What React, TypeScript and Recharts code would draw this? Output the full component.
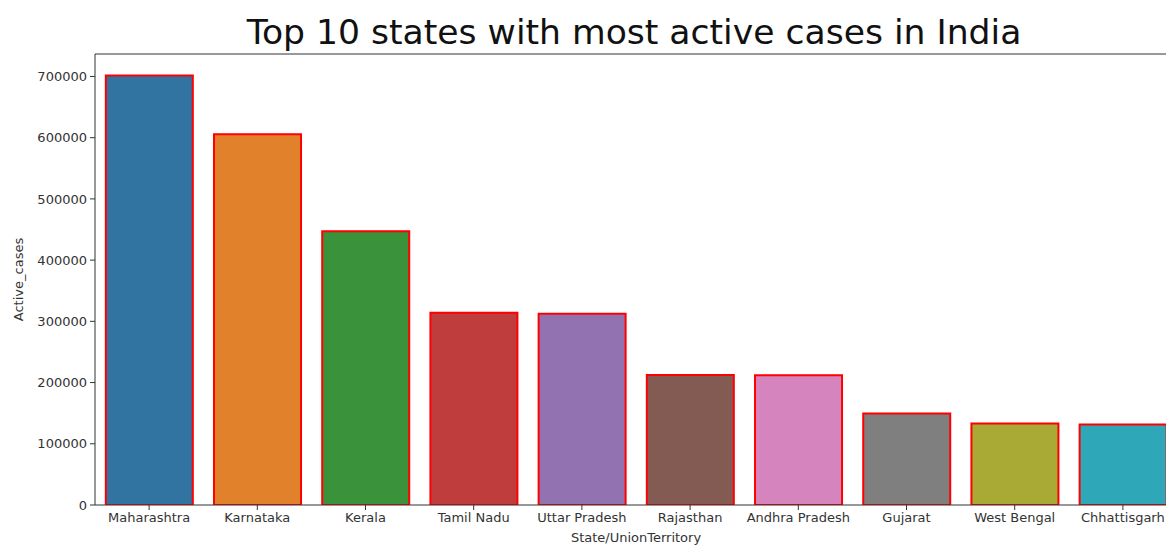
import React from 'react';
import { BarChart, Bar, XAxis, YAxis, Cell, ReferenceLine } from 'recharts';

const states = [
  'Maharashtra',
  'Karnataka',
  'Kerala',
  'Tamil Nadu',
  'Uttar Pradesh',
  'Rajasthan',
  'Andhra Pradesh',
  'Gujarat',
  'West Bengal',
  'Chhattisgarh',
];
const activeCases = [701600, 605500, 447000, 314000, 312500, 212500, 211800, 149600, 133200, 131600];
const barColors = [
  '#3274a1',
  '#e1812c',
  '#3a923a',
  '#c03d3e',
  '#9372b2',
  '#845b53',
  '#d684bd',
  '#7f7f7f',
  '#a9aa35',
  '#2ea8b8',
];
const yTicks = [0, 100000, 200000, 300000, 400000, 500000, 600000, 700000];
const yMax = 736700;

const data = states.map((s, i) => ({ state: s, cases: activeCases[i] }));

const font = 'DejaVu Sans, sans-serif';
const ink = '#333';

export default function App() {
  return (
    <div
      style={{
        position: 'fixed',
        top: 0,
        left: 0,
        width: 1166,
        height: 546,
        overflow: 'hidden',
        background: '#fff',
        fontFamily: font,
      }}
    >
      <div
        style={{
          position: 'absolute',
          top: 10,
          left: 0,
          width: 1268,
          textAlign: 'center',
          fontSize: 34.6,
          color: '#111',
          lineHeight: '44px',
        }}
      >
        Top 10 states with most active cases in India
      </div>
      <BarChart
        width={1190}
        height={546}
        data={data}
        barCategoryGap="10%"
        margin={{ top: 54, right: 13, bottom: 8, left: 35 }}
        style={{ position: 'absolute', top: 0, left: 0 }}
      >
        <XAxis
          dataKey="state"
          height={33}
          stroke={ink}
          tick={{ fill: ink, fontSize: 13, fontFamily: font }}
          tickSize={5}
          tickMargin={3}
          interval={0}
          label={{
            value: 'State/UnionTerritory',
            position: 'insideBottom',
            offset: -4,
            fill: ink,
            fontSize: 13,
            fontFamily: font,
          }}
        />
        <YAxis
          width={60}
          domain={[0, yMax]}
          ticks={yTicks}
          stroke={ink}
          tick={{ fill: ink, fontSize: 13, fontFamily: font }}
          tickSize={5}
          tickMargin={3}
          allowDataOverflow
          label={{
            value: 'Active_cases',
            angle: -90,
            position: 'insideLeft',
            offset: -17,
            style: { textAnchor: 'middle' },
            fill: ink,
            fontSize: 13,
            fontFamily: font,
          }}
        />
        <ReferenceLine y={yMax} stroke={ink} />
        <Bar dataKey="cases" stroke="#ff0000" strokeWidth={2} isAnimationActive={false}>
          {data.map((d, i) => (
            <Cell key={d.state} fill={barColors[i]} />
          ))}
        </Bar>
      </BarChart>
    </div>
  );
}
